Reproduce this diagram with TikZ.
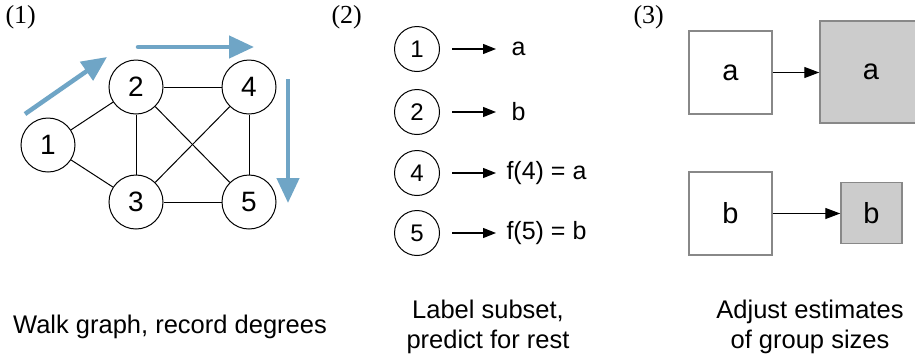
\documentclass[tikz,border=0pt]{standalone}
\usepackage{fontspec}
\setmainfont{Liberation Sans}
\newfontfamily\hdrfont{Liberation Serif}
\usetikzlibrary{arrows.meta}
\definecolor{walkblue}{HTML}{6FA5C6}
\definecolor{boxgray}{HTML}{CCCCCC}
\definecolor{boxline}{HTML}{888888}
\begin{document}
\begin{tikzpicture}[x=1pt,y=-1pt,
  gnode/.style={circle, draw, line width=1pt, minimum size=54pt, inner sep=0pt, font=\fontsize{28}{28}\selectfont},
  lnode/.style={circle, draw, line width=1pt, minimum size=45pt, inner sep=0pt, font=\fontsize{24}{24}\selectfont},
  gedge/.style={line width=1pt},
  walk/.style={line width=4.5pt, walkblue, -{Triangle[length=25pt,width=22pt]}},
  maparrow/.style={line width=1.3pt, shorten >=12pt, -{Triangle[length=13pt,width=10pt]}},
  boxarrow/.style={line width=1.3pt, -{Triangle[length=15pt,width=11pt]}},
  maptext/.style={anchor=west, font=\fontsize{25}{25}\selectfont},
  wbox/.style={draw=boxline, line width=1.5pt, fill=white, minimum size=83pt, inner sep=0pt, font=\fontsize{29}{29}\selectfont},
  gbox/.style={draw=boxline, line width=1.5pt, fill=boxgray, inner sep=0pt, font=\fontsize{29}{29}\selectfont},
  hdr/.style={font=\hdrfont\fontsize{26}{26}\selectfont, anchor=west},
  caption/.style={font=\fontsize{25.5}{30}\selectfont, align=center}
]
\useasboundingbox (0,0) rectangle (915,357);
\fill[white] (0,0) rectangle (915,357);

% headers
\node[hdr] (h1) at (2,17) {(1)};
\node[hdr] (h2) at (328,17) {(2)};
\node[hdr] (h3) at (630,17) {(3)};

% panel 1 graph
\node[gnode] (n1) at (48,145) {1};
\node[gnode] (n2) at (136,87) {2};
\node[gnode] (n4) at (249,87) {4};
\node[gnode] (n3) at (136,202) {3};
\node[gnode] (n5) at (249,202) {5};
\draw[gedge] (n1) -- (n2);
\draw[gedge] (n1) -- (n3);
\draw[gedge] (n2) -- (n4);
\draw[gedge] (n2) -- (n3);
\draw[gedge] (n2) -- (n5);
\draw[gedge] (n4) -- (n3);
\draw[gedge] (n4) -- (n5);
\draw[gedge] (n3) -- (n5);

\coordinate (w1s) at (25,114);
\coordinate (w1e) at (107,57);
\coordinate (w2s) at (138,47);
\coordinate (w2e) at (254,47);
\coordinate (w3s) at (288,79);
\coordinate (w3e) at (288,203);
\draw[walk] (w1s) -- (w1e);
\draw[walk, line cap=round] (w2s) -- (w2e);
\draw[walk] (w3s) -- (w3e);

% panel 2
\node[lnode] (m1) at (417,49) {1};
\node[lnode] (m2) at (417,112) {2};
\node[lnode] (m4) at (417,173) {4};
\node[lnode] (m5) at (417,233) {5};
\node[maptext] (t1) at (508,49) {a};
\node[maptext] (t2) at (508,112) {b};
\node[maptext] (t4) at (503,173) {f(4) = a};
\node[maptext] (t5) at (503,233) {f(5) = b};
\draw[maparrow] ([xshift=12pt]m1.east) -- (t1.west |- m1.east);
\draw[maparrow] ([xshift=12pt]m2.east) -- (t2.west |- m2.east);
\draw[maparrow] ([xshift=12pt]m4.east) -- ([xshift=5pt]t4.west |- m4.east);
\draw[maparrow] ([xshift=12pt]m5.east) -- ([xshift=5pt]t5.west |- m5.east);

% panel 3
\node[wbox] (ba) at (730.5,72.5) {a};
\node[gbox, minimum size=102pt] (ga) at (871,72) {a};
\node[wbox] (bb) at (730.5,213.5) {b};
\node[gbox, minimum size=61pt] (gb) at (871.5,213) {b};
\draw[boxarrow] (ba.east) -- (ga.west |- ba.east);
\draw[boxarrow] (bb.east) -- (gb.west |- bb.east);

% captions
\node[caption] (c1) at (170,327) {Walk graph, record degrees};
\node[caption] (c2) at (488,327) {Label subset,\\predict for rest};
\node[caption] (c3) at (810,327) {Adjust estimates\\of group sizes};
\end{tikzpicture}
\end{document}
